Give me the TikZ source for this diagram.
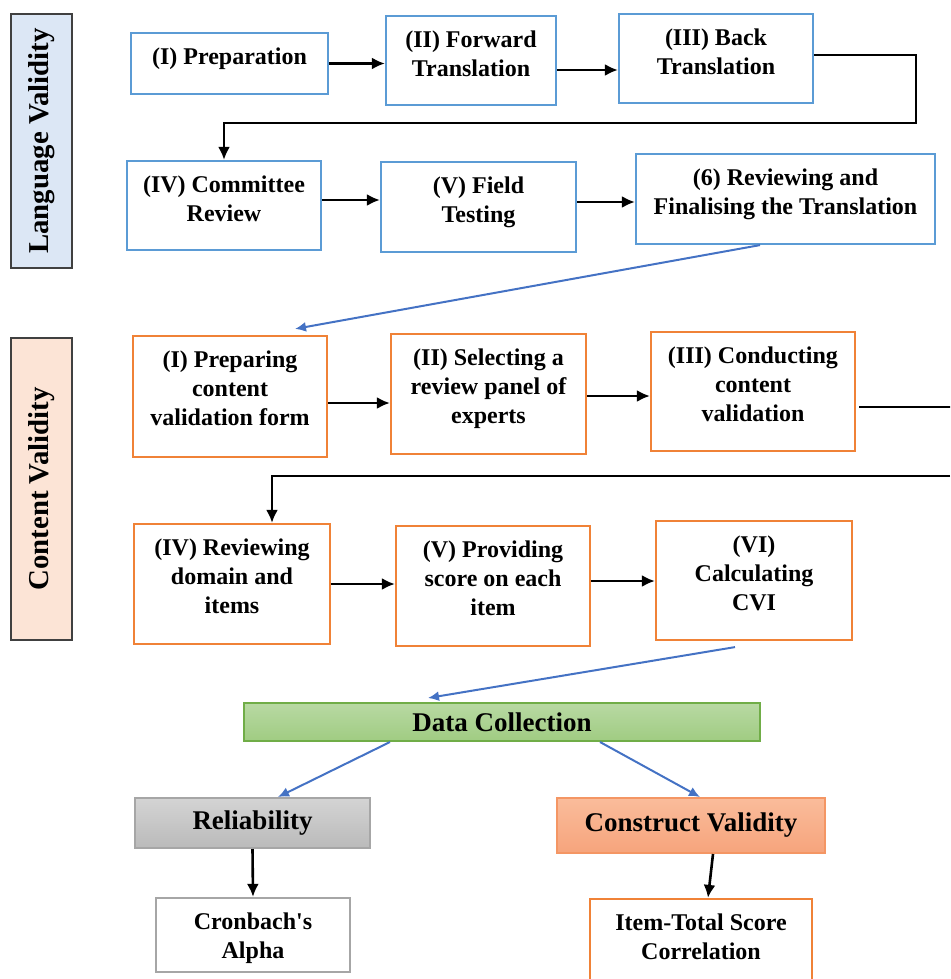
\documentclass[tikz,border=0pt]{standalone}
\usepackage{fontspec}
\setmainfont{Liberation Serif}
\usepackage{tikz}
\usetikzlibrary{arrows.meta}

\definecolor{boxblue}{RGB}{91,155,213}
\definecolor{boxorange}{RGB}{240,130,55}
\definecolor{arrowblue}{RGB}{68,114,196}
\definecolor{sidegray}{RGB}{64,64,64}
\definecolor{langfill}{RGB}{220,231,245}
\definecolor{contfill}{RGB}{252,228,214}
\definecolor{datatop}{RGB}{184,217,163}
\definecolor{databot}{RGB}{160,204,130}
\definecolor{dataline}{RGB}{112,173,71}
\definecolor{reltop}{RGB}{212,212,212}
\definecolor{relbot}{RGB}{186,186,186}
\definecolor{relline}{RGB}{166,166,166}
\definecolor{constop}{RGB}{250,188,155}
\definecolor{consbot}{RGB}{246,164,124}
\definecolor{consline}{RGB}{244,150,100}

\newcommand{\boxtxt}[3]{\parbox[c][#2][t]{#1}{\centering\vspace*{5.5pt}\strut#3}}

\begin{document}
\begin{tikzpicture}[x=0.5pt,y=-0.5pt,
		bbox/.style={draw=boxblue,line width=1.1pt,inner sep=0pt,font=\bfseries\fontsize{12}{14.5}\selectfont},
		obox/.style={bbox,draw=boxorange},
		side/.style={draw=sidegray,line width=1pt,rotate=90,inner sep=0pt,font=\bfseries\fontsize{14.4}{17}\selectfont},
		big/.style={line width=1pt,inner sep=0pt,font=\bfseries\fontsize{13.5}{16}\selectfont},
		arr/.style={-{Latex[length=6.5pt,width=6pt]},line width=1.3pt},
		barr/.style={-{Latex[length=5.5pt,width=5pt]},line width=1pt,draw=arrowblue}]
		\clip (0,0) rectangle (950,979);
		% side bars
		\node[side,fill=langfill,minimum width=127pt,minimum height=30.5pt] (lang) at (41.5,141) {Language Validity};
		\node[side,fill=contfill,minimum width=151pt,minimum height=30.5pt] (cont) at (41.5,489) {Content Validity};
		% language validity
		\node[bbox] (prep) at (229.5,63.5) {\boxtxt{98.5pt}{30.5pt}{(I) Preparation}};
		\node[bbox] (fwd) at (471,60.5) {\boxtxt{85pt}{44.5pt}{(II) Forward\\Translation}};
		\node[bbox] (back) at (716,58.5) {\boxtxt{97pt}{44.5pt}{(III) Back\\Translation}};
		\node[bbox] (comm) at (224,205.5) {\boxtxt{97pt}{44.5pt}{(IV) Committee\\Review}};
		\node[bbox] (field) at (478.5,207) {\boxtxt{97.5pt}{45pt}{(V) Field\\Testing}};
		\node[bbox] (final) at (785.5,199) {\boxtxt{149.5pt}{45pt}{(6) Reviewing and\\Finalising the Translation}};
		\draw[arr] (prep.east) -- (prep.east -| fwd.west);
		\draw[arr] ([yshift=-4.75pt]fwd.east) -- ([yshift=-4.75pt]fwd.east -| back.west);
		\draw[arr] ([yshift=1.75pt]back.east) -- ++(102,0) -- ++(0,68) -| (comm.north);
		\draw[arr] ([yshift=2.75pt]comm.east) -- ([yshift=2.75pt]comm.east -| field.west);
		\draw[arr] ([yshift=2.5pt]field.east) -- ([yshift=2.5pt]field.east -| final.west);
		% content validity
		\node[obox] (form) at (230,396.5) {\boxtxt{97pt}{60.5pt}{(I) Preparing\\content\\validation form}};
		\node[obox] (panel) at (488.5,394) {\boxtxt{97.5pt}{60pt}{(II) Selecting a\\review panel of\\experts}};
		\node[obox] (conduct) at (753,391.5) {\boxtxt{102pt}{59.5pt}{(III) Conducting\\content\\validation}};
		\node[obox] (domain) at (232,584) {\boxtxt{98pt}{60pt}{(IV) Reviewing\\domain and\\items}};
		\node[obox] (score) at (493,586) {\boxtxt{97pt}{60pt}{(V) Providing\\score on each\\item}};
		\node[obox] (cvi) at (754,580.5) {\boxtxt{98pt}{59.5pt}{(VI)\\Calculating\\CVI}};
		\coordinate (wrap) at (950,476);
		\draw[barr] ([xshift=-12.75pt]final.south) -- ([xshift=32.5pt,yshift=3pt]form.north);
		\draw[arr] ([yshift=-3.25pt]form.east) -- ([yshift=-3.25pt]form.east -| panel.west);
		\draw[arr] ([yshift=-1pt]panel.east) -- ([yshift=-1pt]panel.east -| conduct.west);
		\draw[line width=1.3pt] ([xshift=1.5pt,yshift=-7.75pt]conduct.east) -- ++(100,0);
		\draw[arr] (wrap) -| ([xshift=20pt]domain.north);
		\draw[arr] (domain.east) -- (domain.east -| score.west);
		\draw[arr] ([yshift=2.5pt]score.east) -- ([yshift=2.5pt]score.east -| cvi.west);
		% analysis
		\node[big,draw=dataline,top color=datatop,bottom color=databot,minimum width=258pt,minimum height=19pt] (data) at (502,722) {Data Collection};
		\node[big,draw=relline,top color=reltop,bottom color=relbot,minimum width=117.5pt,minimum height=25pt] (rel) at (252.5,823) {Reliability};
		\node[big,draw=consline,top color=constop,bottom color=consbot,minimum width=134pt,minimum height=27.5pt] (cons) at (691,825.5) {Construct Validity};
		\node[bbox,draw=relline] (alpha) at (253,935) {\boxtxt{97pt}{37pt}{Cronbach\textquotesingle s\\Alpha}};
		\node[obox] (item) at (701,949) {\boxtxt{111pt}{50pt}{Item-Total Score\\Correlation}};
		\draw[barr] ([xshift=-9.5pt,yshift=-3pt]cvi.south) -- ([xshift=-37pt,yshift=2pt]data.north);
		\draw[barr] ([xshift=-56pt]data.south) -- ([xshift=12.75pt]rel.north);
		\draw[barr] ([xshift=49pt]data.south) -- ([xshift=4.5pt]cons.north);
		\draw[arr] (rel.south) -- (alpha.north);
		\draw[arr] ([xshift=11pt]cons.south) -- ([xshift=3.5pt]item.north);
	\end{tikzpicture}
\end{document}
